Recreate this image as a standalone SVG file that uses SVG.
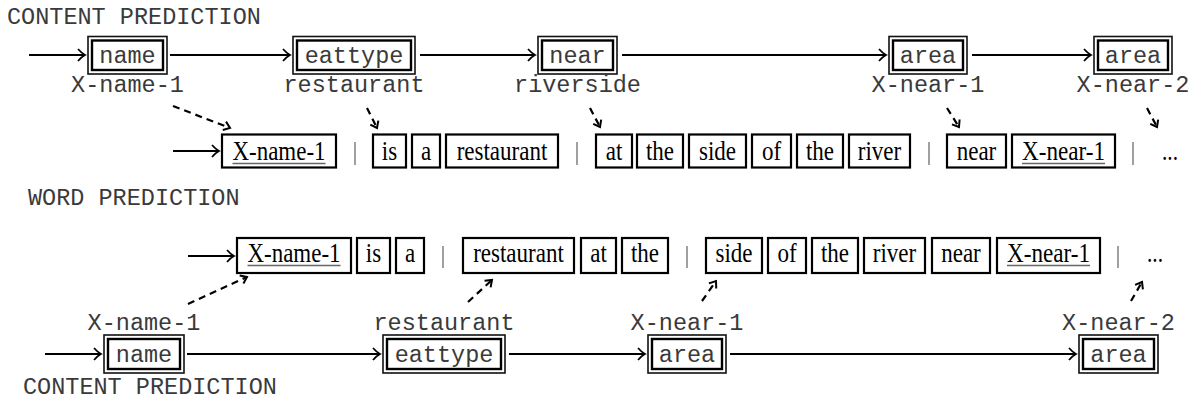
<svg xmlns="http://www.w3.org/2000/svg" width="1196" height="401" viewBox="0 0 1196 401">
  <defs>
    <style>
      .mono { font-family: "Liberation Mono", "Courier New", monospace; font-size: 23.5px; fill: #3a3a3a; }
      .serif { font-family: "Liberation Serif", "Times New Roman", serif; font-size: 27.5px; fill: #000; }
      .outer { fill: #fff; stroke: #111; stroke-width: 1.6; }
      .inner { fill: none; stroke: #000; stroke-width: 2.4; }
      .word { fill: #fff; stroke: #000; stroke-width: 2.2; }
      .uline { stroke: #666; stroke-width: 1.5; }
      .bar { stroke: #888; stroke-width: 1.6; }
      .flow { fill: none; stroke: #000; stroke-width: 2; marker-end: url(#head); }
      .link { fill: none; stroke: #000; stroke-width: 2.2; stroke-dasharray: 7 5; marker-end: url(#dhead); }
    </style>
    <marker id="head" markerWidth="12" markerHeight="14" refX="10" refY="7" orient="auto" markerUnits="userSpaceOnUse">
      <path d="M3 1 Q7 5.5 10 7 Q7 8.5 3 13" fill="none" stroke="#000" stroke-width="1.8"/>
    </marker>
    <marker id="dhead" markerWidth="10" markerHeight="12" refX="8" refY="6" orient="auto" markerUnits="userSpaceOnUse">
      <path d="M2 1.5 L8 6 L2 10.5" fill="none" stroke="#000" stroke-width="2"/>
    </marker>
  </defs>

  <!-- section titles -->
  <text class="mono" x="7" y="24">CONTENT PREDICTION</text>
  <text class="mono" x="28" y="205">WORD PREDICTION</text>
  <text class="mono" x="23" y="394">CONTENT PREDICTION</text>

  <!-- upper content chain -->
  <g id="c1-name">
    <rect class="outer" x="88" y="36.5" width="79" height="37.5"/>
    <rect class="inner" x="92" y="40.5" width="71" height="29.5"/>
    <text class="mono" x="127.5" y="63" text-anchor="middle">name</text>
    <text class="mono" x="127.5" y="92" text-anchor="middle">X-name-1</text>
  </g>
  <g id="c1-eattype">
    <rect class="outer" x="293" y="36.5" width="122" height="37.5"/>
    <rect class="inner" x="297" y="40.5" width="114" height="29.5"/>
    <text class="mono" x="354" y="63" text-anchor="middle">eattype</text>
    <text class="mono" x="354" y="92" text-anchor="middle">restaurant</text>
  </g>
  <g id="c1-near">
    <rect class="outer" x="538" y="36.5" width="79" height="37.5"/>
    <rect class="inner" x="542" y="40.5" width="71" height="29.5"/>
    <text class="mono" x="577.5" y="63" text-anchor="middle">near</text>
    <text class="mono" x="577.5" y="92" text-anchor="middle">riverside</text>
  </g>
  <g id="c1-area1">
    <rect class="outer" x="889" y="36.5" width="78" height="37.5"/>
    <rect class="inner" x="893" y="40.5" width="70" height="29.5"/>
    <text class="mono" x="928" y="63" text-anchor="middle">area</text>
    <text class="mono" x="928" y="92" text-anchor="middle">X-near-1</text>
  </g>
  <g id="c1-area2">
    <rect class="outer" x="1094" y="36.5" width="78" height="37.5"/>
    <rect class="inner" x="1098" y="40.5" width="70" height="29.5"/>
    <text class="mono" x="1133" y="63" text-anchor="middle">area</text>
    <text class="mono" x="1133" y="92" text-anchor="middle">X-near-2</text>
  </g>

  <!-- upper word sequence -->
  <g id="w1-xname1">
    <rect class="word" x="222" y="134.5" width="114" height="33"/>
    <text class="serif" x="279" y="160" text-anchor="middle" textLength="93" lengthAdjust="spacingAndGlyphs">X-name-1</text>
    <line class="uline" x1="232.5" y1="163.5" x2="325.5" y2="163.5"/>
  </g>
  <line class="bar" x1="355" y1="142" x2="355" y2="165"/>
  <g id="w1-is"><rect class="word" x="373" y="134.5" width="33" height="33"/><text class="serif" x="389.5" y="160" text-anchor="middle" textLength="15.3" lengthAdjust="spacingAndGlyphs">is</text></g>
  <g id="w1-a"><rect class="word" x="412" y="134.5" width="28" height="33"/><text class="serif" x="426" y="160" text-anchor="middle" textLength="10.2" lengthAdjust="spacingAndGlyphs">a</text></g>
  <g id="w1-restaurant"><rect class="word" x="446" y="134.5" width="112" height="33"/><text class="serif" x="502" y="160" text-anchor="middle" textLength="90.7" lengthAdjust="spacingAndGlyphs">restaurant</text></g>
  <line class="bar" x1="577" y1="142" x2="577" y2="165"/>
  <g id="w1-at"><rect class="word" x="596" y="134.5" width="36" height="33"/><text class="serif" x="614" y="160" text-anchor="middle" textLength="16.6" lengthAdjust="spacingAndGlyphs">at</text></g>
  <g id="w1-the1"><rect class="word" x="637" y="134.5" width="46" height="33"/><text class="serif" x="660" y="160" text-anchor="middle" textLength="28.1" lengthAdjust="spacingAndGlyphs">the</text></g>
  <g id="w1-side"><rect class="word" x="689" y="134.5" width="57" height="33"/><text class="serif" x="717.5" y="160" text-anchor="middle" textLength="37.1" lengthAdjust="spacingAndGlyphs">side</text></g>
  <g id="w1-of"><rect class="word" x="752" y="134.5" width="39" height="33"/><text class="serif" x="771.5" y="160" text-anchor="middle" textLength="19.2" lengthAdjust="spacingAndGlyphs">of</text></g>
  <g id="w1-the2"><rect class="word" x="797" y="134.5" width="46" height="33"/><text class="serif" x="820" y="160" text-anchor="middle" textLength="28.1" lengthAdjust="spacingAndGlyphs">the</text></g>
  <g id="w1-river"><rect class="word" x="849" y="134.5" width="61" height="33"/><text class="serif" x="879.5" y="160" text-anchor="middle" textLength="43.4" lengthAdjust="spacingAndGlyphs">river</text></g>
  <line class="bar" x1="929" y1="142" x2="929" y2="165"/>
  <g id="w1-near"><rect class="word" x="947" y="134.5" width="59" height="33"/><text class="serif" x="976.5" y="160" text-anchor="middle" textLength="39.6" lengthAdjust="spacingAndGlyphs">near</text></g>
  <g id="w1-xnear1">
    <rect class="word" x="1012" y="134.5" width="103" height="33"/>
    <text class="serif" x="1063.5" y="160" text-anchor="middle" textLength="83" lengthAdjust="spacingAndGlyphs">X-near-1</text>
    <line class="uline" x1="1022" y1="163.5" x2="1105" y2="163.5"/>
  </g>
  <line class="bar" x1="1133" y1="142" x2="1133" y2="165"/>
  <text class="serif" x="1170" y="160" text-anchor="middle" textLength="16" lengthAdjust="spacingAndGlyphs">...</text>

  <!-- lower word sequence -->
  <g id="w2-xname1">
    <rect class="word" x="237" y="238" width="114" height="35"/>
    <text class="serif" x="294" y="262" text-anchor="middle" textLength="93" lengthAdjust="spacingAndGlyphs">X-name-1</text>
    <line class="uline" x1="247.5" y1="265.5" x2="340.5" y2="265.5"/>
  </g>
  <g id="w2-is"><rect class="word" x="357" y="238" width="33" height="35"/><text class="serif" x="373.5" y="262" text-anchor="middle" textLength="15.3" lengthAdjust="spacingAndGlyphs">is</text></g>
  <g id="w2-a"><rect class="word" x="396" y="238" width="28" height="35"/><text class="serif" x="410" y="262" text-anchor="middle" textLength="10.2" lengthAdjust="spacingAndGlyphs">a</text></g>
  <line class="bar" x1="443" y1="246" x2="443" y2="268"/>
  <g id="w2-restaurant"><rect class="word" x="463" y="238" width="111" height="35"/><text class="serif" x="518.5" y="262" text-anchor="middle" textLength="90.7" lengthAdjust="spacingAndGlyphs">restaurant</text></g>
  <g id="w2-at"><rect class="word" x="581" y="238" width="35" height="35"/><text class="serif" x="598.5" y="262" text-anchor="middle" textLength="16.6" lengthAdjust="spacingAndGlyphs">at</text></g>
  <g id="w2-the1"><rect class="word" x="622" y="238" width="46" height="35"/><text class="serif" x="645" y="262" text-anchor="middle" textLength="28.1" lengthAdjust="spacingAndGlyphs">the</text></g>
  <line class="bar" x1="687" y1="246" x2="687" y2="268"/>
  <g id="w2-side"><rect class="word" x="706" y="238" width="56" height="35"/><text class="serif" x="734" y="262" text-anchor="middle" textLength="37.1" lengthAdjust="spacingAndGlyphs">side</text></g>
  <g id="w2-of"><rect class="word" x="768" y="238" width="38" height="35"/><text class="serif" x="787" y="262" text-anchor="middle" textLength="19.2" lengthAdjust="spacingAndGlyphs">of</text></g>
  <g id="w2-the2"><rect class="word" x="812" y="238" width="46" height="35"/><text class="serif" x="835" y="262" text-anchor="middle" textLength="28.1" lengthAdjust="spacingAndGlyphs">the</text></g>
  <g id="w2-river"><rect class="word" x="864" y="238" width="61" height="35"/><text class="serif" x="894.5" y="262" text-anchor="middle" textLength="43.4" lengthAdjust="spacingAndGlyphs">river</text></g>
  <g id="w2-near"><rect class="word" x="932" y="238" width="58" height="35"/><text class="serif" x="961" y="262" text-anchor="middle" textLength="39.6" lengthAdjust="spacingAndGlyphs">near</text></g>
  <g id="w2-xnear1">
    <rect class="word" x="997" y="238" width="103" height="35"/>
    <text class="serif" x="1048.5" y="262" text-anchor="middle" textLength="83" lengthAdjust="spacingAndGlyphs">X-near-1</text>
    <line class="uline" x1="1007" y1="265.5" x2="1090" y2="265.5"/>
  </g>
  <line class="bar" x1="1118" y1="246" x2="1118" y2="268"/>
  <text class="serif" x="1155" y="262" text-anchor="middle" textLength="16" lengthAdjust="spacingAndGlyphs">...</text>

  <!-- lower content chain -->
  <g id="c2-name">
    <rect class="outer" x="104" y="335" width="80" height="38"/>
    <rect class="inner" x="108" y="339" width="72" height="30"/>
    <text class="mono" x="144" y="362" text-anchor="middle">name</text>
    <text class="mono" x="144" y="330" text-anchor="middle">X-name-1</text>
  </g>
  <g id="c2-eattype">
    <rect class="outer" x="383" y="335" width="122" height="38"/>
    <rect class="inner" x="387" y="339" width="114" height="30"/>
    <text class="mono" x="444" y="362" text-anchor="middle">eattype</text>
    <text class="mono" x="444" y="330" text-anchor="middle">restaurant</text>
  </g>
  <g id="c2-area1">
    <rect class="outer" x="648" y="335" width="78" height="38"/>
    <rect class="inner" x="652" y="339" width="70" height="30"/>
    <text class="mono" x="687" y="362" text-anchor="middle">area</text>
    <text class="mono" x="687" y="330" text-anchor="middle">X-near-1</text>
  </g>
  <g id="c2-area2">
    <rect class="outer" x="1079" y="335" width="79" height="38"/>
    <rect class="inner" x="1083" y="339" width="71" height="30"/>
    <text class="mono" x="1118.5" y="362" text-anchor="middle">area</text>
    <text class="mono" x="1118.5" y="330" text-anchor="middle">X-near-2</text>
  </g>

  <!-- connectors -->
  <g id="connectors">
    <line class="flow" x1="29" y1="55" x2="85" y2="55"/>
    <line class="flow" x1="170" y1="55" x2="290" y2="55"/>
    <line class="flow" x1="420" y1="55" x2="535" y2="55"/>
    <line class="flow" x1="622" y1="55" x2="886" y2="55"/>
    <line class="flow" x1="972" y1="55" x2="1091" y2="55"/>

    <line class="flow" x1="173" y1="151" x2="219" y2="151"/>
    <line class="flow" x1="188" y1="256" x2="234" y2="256"/>

    <line class="flow" x1="45" y1="354" x2="101" y2="354"/>
    <line class="flow" x1="187" y1="354" x2="380" y2="354"/>
    <line class="flow" x1="509" y1="354" x2="645" y2="354"/>
    <line class="flow" x1="730" y1="354" x2="1076" y2="354"/>

    <line class="link" x1="173" y1="106" x2="230" y2="128"/>
    <line class="link" x1="367" y1="108" x2="377" y2="128"/>
    <line class="link" x1="590" y1="108" x2="600" y2="127"/>
    <line class="link" x1="947" y1="108" x2="959" y2="127"/>
    <line class="link" x1="1147" y1="108" x2="1157" y2="127"/>

    <line class="link" x1="188" y1="304" x2="247" y2="277"/>
    <line class="link" x1="468" y1="302" x2="492" y2="280"/>
    <line class="link" x1="702" y1="301" x2="716" y2="281"/>
    <line class="link" x1="1131" y1="301" x2="1142" y2="282"/>
  </g>
</svg>
